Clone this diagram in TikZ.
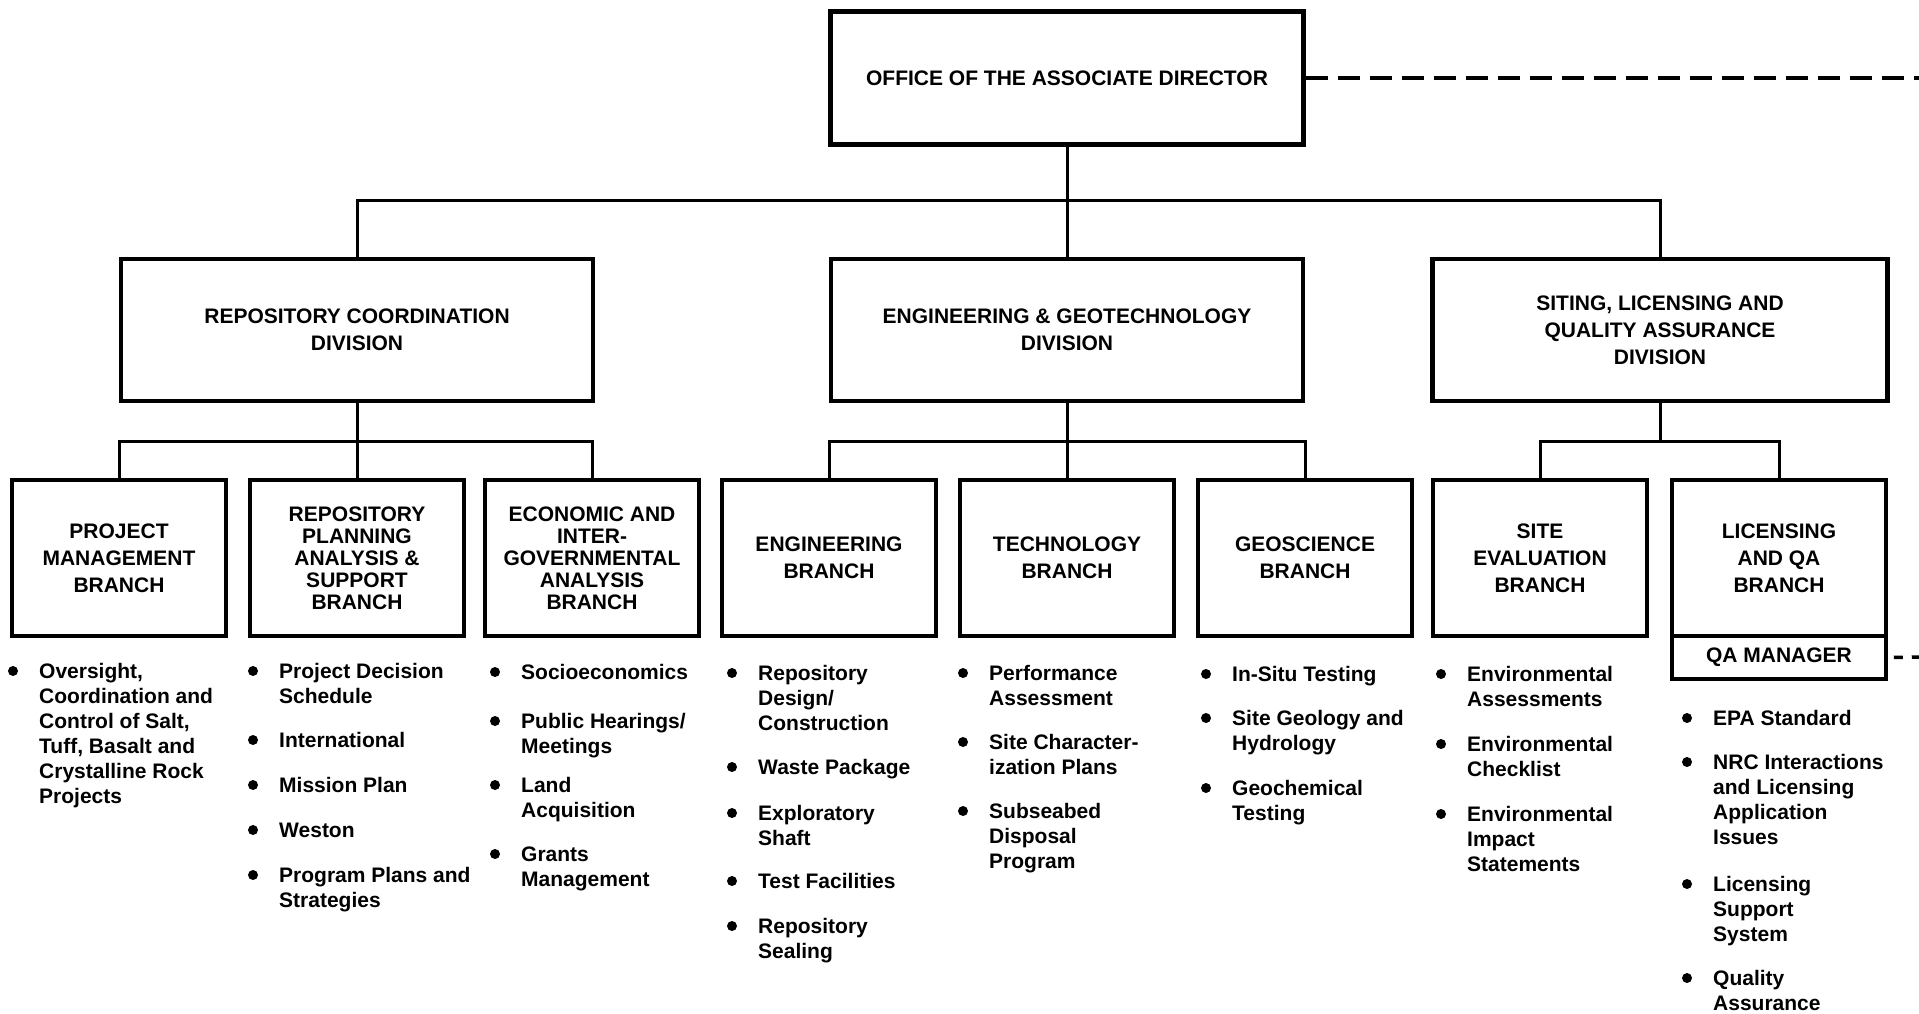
\documentclass[tikz,border=0pt]{standalone}
\usepackage{fontspec}
\setmainfont{Liberation Sans}
\usepackage{tikz}
\usetikzlibrary{positioning}

\tikzset{
  orgbox/.style={draw, line width=4.5pt, align=center, inner sep=0pt,
    font=\fontsize{21}{27}\selectfont\bfseries},
  divbox/.style={orgbox, minimum width=472pt, minimum height=142pt},
  brbox/.style={orgbox, minimum width=214pt, minimum height=156pt},
  tightbr/.style={brbox, font=\fontsize{21}{22}\selectfont\bfseries},
  itemtxt/.style={anchor=north west, align=left, inner sep=0pt,
    font=\fontsize{21}{25}\selectfont\bfseries},
  link/.style={line width=3pt},
  dashlink/.style={line width=3.5pt, dash pattern=on 22pt off 10pt},
}

\begin{document}
\begin{tikzpicture}[x=1pt, y=-1pt]
    \useasboundingbox (0,0) rectangle (1919,1013);

    % top and divisions
    \node[orgbox, minimum width=473pt, minimum height=133pt] (office) at (1067,78) {OFFICE OF THE ASSOCIATE DIRECTOR};
    \node[divbox] (rcd) at (357,330) {REPOSITORY COORDINATION\\DIVISION};
    \node[divbox] (egd) at (1067,330) {ENGINEERING \& GEOTECHNOLOGY\\DIVISION};
    \node[divbox, minimum width=455pt] (slqa) at (1660,330) {SITING, LICENSING AND\\QUALITY ASSURANCE\\DIVISION};

    % branches
    \node[brbox] (pm) at (119,558) {PROJECT\\MANAGEMENT\\BRANCH};
    \node[tightbr] (rpas) at (357,558) {REPOSITORY\\PLANNING\\ANALYSIS \&\\SUPPORT\\BRANCH};
    \node[tightbr] (eiga) at (592,558) {ECONOMIC AND\\INTER-\\GOVERNMENTAL\\ANALYSIS\\BRANCH};
    \node[brbox] (eng) at (829,558) {ENGINEERING\\BRANCH};
    \node[brbox] (tech) at (1067,558) {TECHNOLOGY\\BRANCH};
    \node[brbox] (geo) at (1305,558) {GEOSCIENCE\\BRANCH};
    \node[brbox] (site) at (1540,558) {SITE\\EVALUATION\\BRANCH};
    \node[brbox] (lic) at (1779,558) {LICENSING\\AND QA\\BRANCH};
    \node[orgbox, line width=3.5pt, minimum width=214pt, minimum height=43pt, below=-4pt of lic] (qam) {QA MANAGER};

    % tree lines
    \draw[link] (office.south) -- (egd.north);
    \draw[link] (office.south) -- ++(0,54) -| (rcd.north);
    \draw[link] (office.south) -- ++(0,54) -| (slqa.north);

    \draw[link] (rcd.south) -- (rpas.north);
    \draw[link] (rcd.south) -- ++(0,38) -| (pm.north);
    \draw[link] (rcd.south) -- ++(0,38) -| (eiga.north);

    \draw[link] (egd.south) -- (tech.north);
    \draw[link] (egd.south) -- ++(0,38) -| (eng.north);
    \draw[link] (egd.south) -- ++(0,38) -| (geo.north);

    \draw[link] (slqa.south) -- ++(0,38) -| (site.north);
    \draw[link] (slqa.south) -- ++(0,38) -| (lic.north);

    % dashed ties off the right edge
    \coordinate (rimA) at (1919,78);
    \coordinate (rimB) at (1919,657);
    \draw[dashlink] (office.east) -- (rimA);
    \draw[dashlink, dash pattern=on 9pt off 9pt, shorten <=6pt] (qam.east) -- (rimB);

    % task lists
    \foreach \k/\yc/\txt in {1/671/{Oversight,\\Coordination and\\Control of Salt,\\Tuff, Basalt and\\Crystalline Rock\\Projects}}
    {
        \node[itemtxt] (pmt\k) at (39,\yc-10) {\strut\txt};
        \fill ([shift={(-26,10)}]pmt\k.north west) circle (5pt);
    }
    \foreach \k/\yc/\txt in {1/671/{Project Decision\\Schedule}, 2/740/International, 3/785/Mission Plan,
        4/830/Weston, 5/875/{Program Plans and\\Strategies}}
    {
        \node[itemtxt] (rpt\k) at (279,\yc-10) {\strut\txt};
        \fill ([shift={(-26,10)}]rpt\k.north west) circle (5pt);
    }
    \foreach \k/\yc/\txt in {1/672/Socioeconomics, 2/721/{Public Hearings/\\Meetings}, 3/785/{Land\\Acquisition},
        4/854/{Grants\\Management}}
    {
        \node[itemtxt] (ect\k) at (521,\yc-10) {\strut\txt};
        \fill ([shift={(-26,10)}]ect\k.north west) circle (5pt);
    }
    \foreach \k/\yc/\txt in {1/673/{Repository\\Design/\\Construction}, 2/767/Waste Package, 3/813/{Exploratory\\Shaft},
        4/881/Test Facilities, 5/926/{Repository\\Sealing}}
    {
        \node[itemtxt] (ent\k) at (758,\yc-10) {\strut\txt};
        \fill ([shift={(-26,10)}]ent\k.north west) circle (5pt);
    }
    \foreach \k/\yc/\txt in {1/673/{Performance\\Assessment}, 2/742/{Site Character-\\ization Plans},
        3/811/{Subseabed\\Disposal\\Program}}
    {
        \node[itemtxt] (tet\k) at (989,\yc-10) {\strut\txt};
        \fill ([shift={(-26,10)}]tet\k.north west) circle (5pt);
    }
    \foreach \k/\yc/\txt in {1/674/In-Situ Testing, 2/718/{Site Geology and\\Hydrology}, 3/788/{Geochemical\\Testing}}
    {
        \node[itemtxt] (get\k) at (1232,\yc-10) {\strut\txt};
        \fill ([shift={(-26,10)}]get\k.north west) circle (5pt);
    }
    \foreach \k/\yc/\txt in {1/674/{Environmental\\Assessments}, 2/744/{Environmental\\Checklist},
        3/814/{Environmental\\Impact\\Statements}}
    {
        \node[itemtxt] (set\k) at (1467,\yc-10) {\strut\txt};
        \fill ([shift={(-26,10)}]set\k.north west) circle (5pt);
    }
    \foreach \k/\yc/\txt in {1/718/EPA Standard, 2/762/{NRC Interactions\\and Licensing\\Application\\Issues},
        3/884/{Licensing\\Support\\System}, 4/978/{Quality\\Assurance}}
    {
        \node[itemtxt] (lit\k) at (1713,\yc-10) {\strut\txt};
        \fill ([shift={(-26,10)}]lit\k.north west) circle (5pt);
    }
\end{tikzpicture}
\end{document}
